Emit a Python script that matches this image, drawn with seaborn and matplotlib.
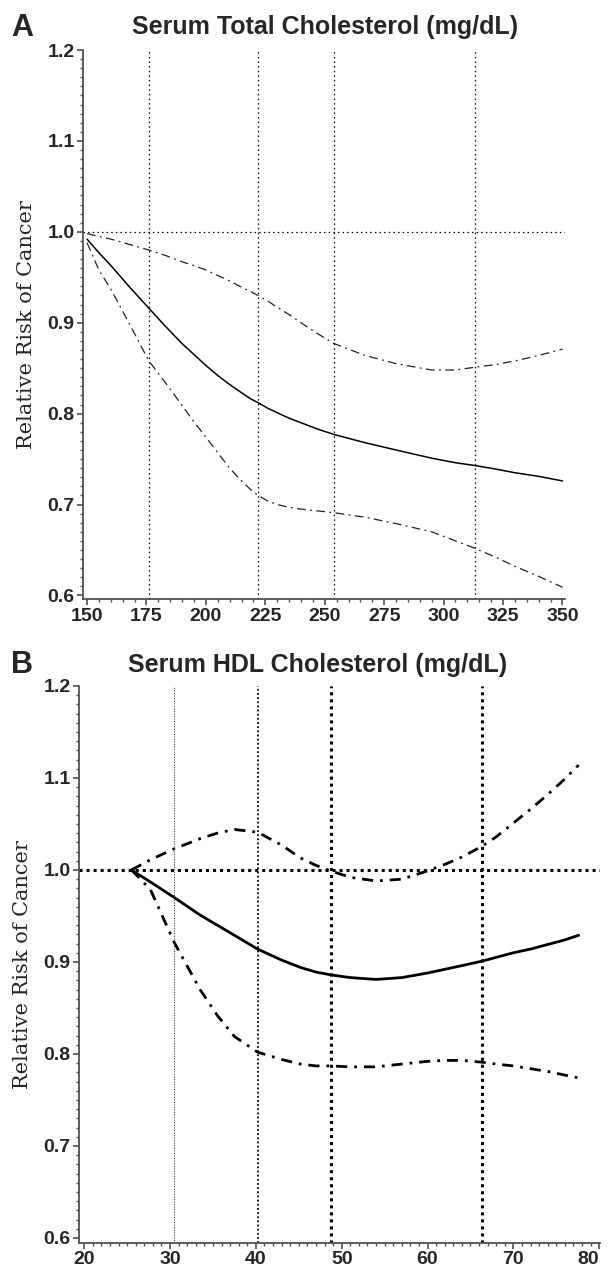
import numpy as np
import pandas as pd
import matplotlib
matplotlib.use('Agg')
import matplotlib.pyplot as plt
from matplotlib.ticker import MultipleLocator
import seaborn as sns

# panel A: serum total cholesterol
tc_x = [150, 155, 160, 168, 176, 183, 190, 195, 200, 205, 210, 215, 219, 222, 226, 230, 235, 240, 247, 254, 267, 280, 295, 305, 313, 322, 330, 340, 350]
tc_rr = [0.992, 0.977, 0.963, 0.939, 0.916, 0.896, 0.877, 0.865, 0.853, 0.842, 0.832, 0.823, 0.816, 0.812, 0.806, 0.801, 0.795, 0.790, 0.783, 0.777, 0.768, 0.760, 0.751, 0.746, 0.743, 0.739, 0.735, 0.731, 0.726]
tc_upper = [0.998, 0.995, 0.992, 0.986, 0.980, 0.974, 0.967, 0.963, 0.958, 0.952, 0.946, 0.939, 0.934, 0.930, 0.924, 0.917, 0.909, 0.900, 0.888, 0.877, 0.864, 0.855, 0.848, 0.848, 0.851, 0.854, 0.858, 0.864, 0.871]
tc_lower = [0.988, 0.958, 0.937, 0.898, 0.858, 0.834, 0.809, 0.791, 0.774, 0.757, 0.740, 0.726, 0.716, 0.710, 0.704, 0.700, 0.697, 0.695, 0.693, 0.691, 0.686, 0.679, 0.670, 0.660, 0.652, 0.642, 0.632, 0.621, 0.609]
tc_cuts = [176, 222, 254, 313]

# panel B: serum HDL cholesterol
hdl_x = [25.5, 27.7, 30.5, 33.5, 35.5, 37.5, 40.2, 43, 45.2, 47, 48.7, 51, 54, 57, 60, 62, 64, 66.4, 68, 70, 72, 74, 76, 77.6]
hdl_rr = [1.000, 0.987, 0.970, 0.951, 0.940, 0.929, 0.914, 0.902, 0.894, 0.889, 0.886, 0.883, 0.881, 0.883, 0.888, 0.892, 0.896, 0.901, 0.905, 0.910, 0.914, 0.919, 0.924, 0.929]
hdl_upper = [1.000, 1.011, 1.023, 1.034, 1.040, 1.044, 1.041, 1.027, 1.013, 1.005, 0.999, 0.992, 0.988, 0.990, 0.999, 1.006, 1.014, 1.026, 1.036, 1.051, 1.066, 1.082, 1.099, 1.114]
hdl_lower = [1.000, 0.979, 0.921, 0.870, 0.842, 0.819, 0.802, 0.794, 0.789, 0.787, 0.787, 0.786, 0.786, 0.789, 0.792, 0.793, 0.793, 0.791, 0.789, 0.787, 0.784, 0.781, 0.777, 0.774]
hdl_cuts = [30.5, 40.2, 48.7, 66.4]
hdl_cut_lw = [0.8, 1.3, 2.2, 2.2]

sns.set_style('ticks')
plt.rcParams['font.family'] = ['Liberation Sans', 'DejaVu Sans']

fig = plt.figure(figsize=(6.08, 12.7), dpi=100)
axA = fig.add_axes([0.1365, 0.528, 0.7925, 0.4326])
axB = fig.add_axes([0.130, 0.0213, 0.857, 0.4386])

def style_axis(ax):
    for s in ['top', 'right']:
        ax.spines[s].set_visible(False)
    for s in ['left', 'bottom']:
        ax.spines[s].set_color('#505050')
        ax.spines[s].set_linewidth(1.3)
    ax.tick_params(which='major', length=4, width=1.1, color='#404040', labelsize=14, pad=2)
    ax.tick_params(which='minor', length=2.5, width=1.0, color='#505050')
    for lab in ax.get_xticklabels() + ax.get_yticklabels():
        lab.set_fontweight('bold')
    ax.set_ylabel('Relative Risk of Cancer', family='DejaVu Serif', fontsize=15, labelpad=8)
    ax.set_xlabel('')

# ---- A ----
dfA = pd.DataFrame({'x': tc_x, 'rr': tc_rr, 'up': tc_upper, 'lo': tc_lower})
sns.lineplot(data=dfA, x='x', y='rr', ax=axA, color='black', lw=1.1)
sns.lineplot(data=dfA, x='x', y='up', ax=axA, color='#222222', lw=0.9).lines[-1].set_dashes([7, 3.5, 1.5, 3.5])
sns.lineplot(data=dfA, x='x', y='lo', ax=axA, color='#222222', lw=0.9).lines[-1].set_dashes([7, 3.5, 1.5, 3.5])
for c in tc_cuts:
    axA.axvline(c, color='black', lw=0.9, ls=(0, (1.2, 2.5)))
axA.axhline(1.0, color='black', lw=0.9, ls=(0, (1.2, 2.5)))
axA.set_xlim(148.3, 351)
axA.set_ylim(0.5956, 1.2)
axA.xaxis.set_major_locator(MultipleLocator(25))
axA.xaxis.set_minor_locator(MultipleLocator(5))
axA.yaxis.set_minor_locator(MultipleLocator(0.01))
axA.set_yticks([0.6, 0.7, 0.8, 0.9, 1.0, 1.1, 1.2])
axA.set_yticklabels(['0.6', '0.7', '0.8', '0.9', '1.0', '1.1', '1.2'])
style_axis(axA)

# ---- B ----
dfB = pd.DataFrame({'x': hdl_x, 'rr': hdl_rr, 'up': hdl_upper, 'lo': hdl_lower})
sns.lineplot(data=dfB, x='x', y='rr', ax=axB, color='black', lw=2.0)
sns.lineplot(data=dfB, x='x', y='up', ax=axB, color='black', lw=2.0).lines[-1].set_dashes([4, 2.5, 1, 2.5])
sns.lineplot(data=dfB, x='x', y='lo', ax=axB, color='black', lw=2.0).lines[-1].set_dashes([4, 2.5, 1, 2.5])
for c, w in zip(hdl_cuts, hdl_cut_lw):
    axB.axvline(c, color='black' if w > 1 else '#444444', lw=w, ls=(0, (1, 1.3)))
axB.axhline(1.0, color='black', lw=2.2, ls=(0, (1, 1.3)))
axB.set_xlim(19.4, 80.1)
axB.set_ylim(0.5946, 1.2)
axB.xaxis.set_major_locator(MultipleLocator(10))
axB.xaxis.set_minor_locator(MultipleLocator(1))
axB.yaxis.set_minor_locator(MultipleLocator(0.01))
axB.set_yticks([0.6, 0.7, 0.8, 0.9, 1.0, 1.1, 1.2])
axB.set_yticklabels(['0.6', '0.7', '0.8', '0.9', '1.0', '1.1', '1.2'])
style_axis(axB)
axB.set_xticks([20, 30, 40, 50, 60, 70, 80])
axB.set_xticklabels(['20', '30', '40', '50', '60', '70', '80'], fontweight='bold')
axB.get_xticklabels()[-1].set_horizontalalignment('right')

# titles and panel letters
fig.text(0.535, 0.979, 'Serum Total Cholesterol (mg/dL)', ha='center', va='center', fontsize=18, fontweight='bold')
fig.text(0.522, 0.476, 'Serum HDL Cholesterol (mg/dL)', ha='center', va='center', fontsize=18, fontweight='bold')
fig.text(0.018, 0.978, 'A', ha='left', va='center', fontsize=22, fontweight='bold')
fig.text(0.018, 0.476, 'B', ha='left', va='center', fontsize=22, fontweight='bold')

fig.savefig('out.png', dpi=100)
